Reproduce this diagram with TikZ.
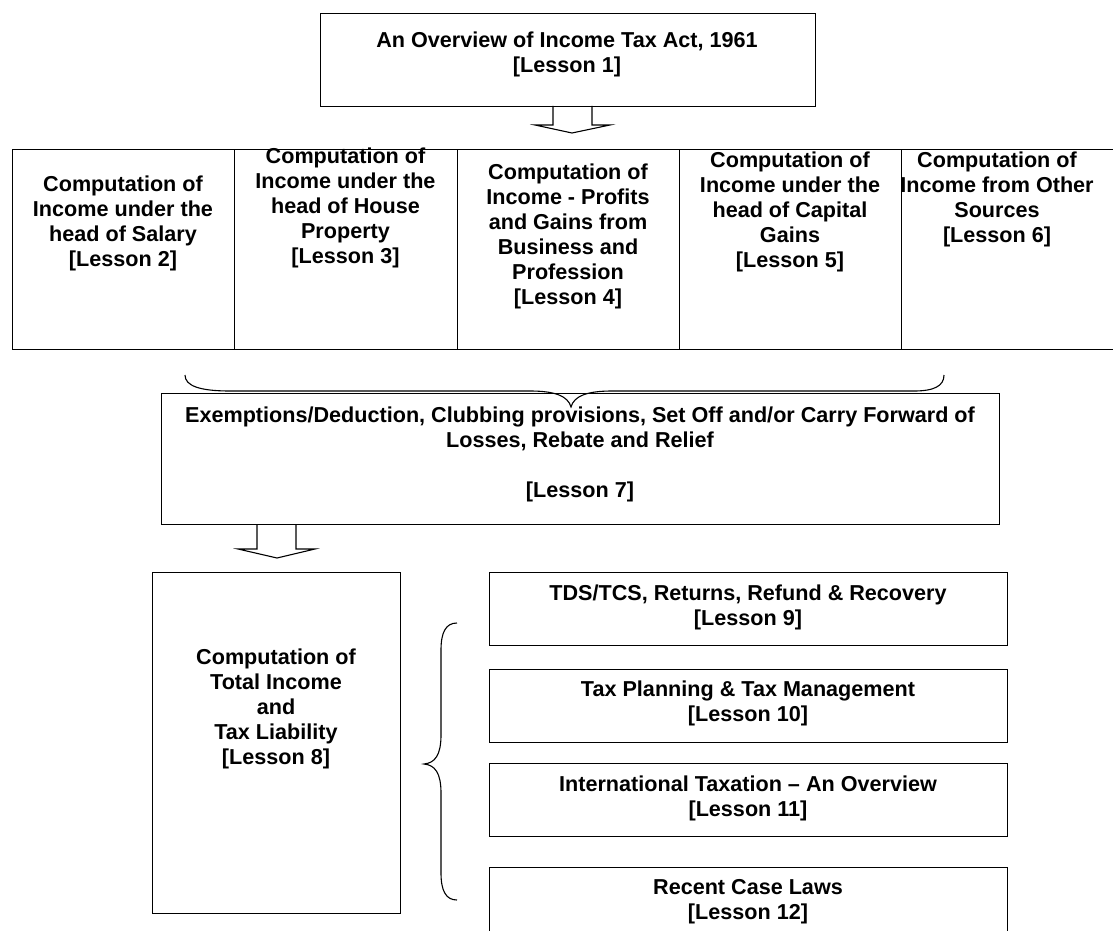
\documentclass[tikz,border=0pt]{standalone}
\usepackage{fontspec}
\setmainfont{Liberation Sans}
\begin{document}
\begin{tikzpicture}[x=1pt,y=-1pt,
  box/.style={draw=black, line width=1.2pt, inner sep=0pt, anchor=north west},
  txt/.style={font=\fontsize{21.6}{25}\selectfont\bfseries, align=center, inner sep=0pt},
  outl/.style={draw=black, line width=1.1pt, line join=miter},
  brace/.style={draw=black, line width=1.1pt}]
\useasboundingbox (0,0) rectangle (1113,931);
\clip (0,0) rectangle (1113,931);
% top box
\node[box, minimum width=495pt, minimum height=93pt] (top) at (320,13) {};
\node[txt] (ttop) at (567,54) {An Overview of Income Tax Act, 1961\\{[Lesson 1]}};
% arrow 1
\coordinate (a1) at (553,106);
\coordinate (a1r) at (592,106);
\draw[outl] (a1) -- (553,125) -- (535,125) -- (572,133) -- (610,125) -- (592,125) -- (a1r);
% row boxes
\node[box, minimum width=222pt, minimum height=200pt] (b2) at (12,149) {};
\node[box, minimum width=223pt, minimum height=200pt] (b3) at (234,149) {};
\node[box, minimum width=222pt, minimum height=200pt] (b4) at (457,149) {};
\node[box, minimum width=222pt, minimum height=200pt] (b5) at (679,149) {};
\node[box, minimum width=223pt, minimum height=200pt] (b6) at (901,149) {};
\node[txt] (t2) at (123,223) {Computation of\\Income under the\\head of Salary\\{[Lesson 2]}};
\node[txt] (t3) at (345.5,208) {Computation of\\Income under the\\head of House\\Property\\{[Lesson 3]}};
\node[txt] (t4) at (568,236) {Computation of\\Income - Profits\\and Gains from\\Business and\\Profession\\{[Lesson 4]}};
\node[txt] (t5) at (790,212) {Computation of\\Income under the\\head of Capital\\Gains\\{[Lesson 5]}};
\node[txt] (t6) at (997,199) {Computation of\\Income from Other\\Sources\\{[Lesson 6]}};
% brace under row
\draw[brace] (185,375) .. controls (185,386) and (200,391) .. (230,391) -- (530,391)
  .. controls (555,391) and (568,396) .. (571,407)
  .. controls (574,396) and (587,391) .. (612,391) -- (914,391)
  .. controls (934,391) and (944,386) .. (944,375);
% box 7
\node[box, minimum width=838pt, minimum height=131pt] (b7) at (161,393) {};
\node[txt] (t7) at (580,454) {Exemptions/Deduction, Clubbing provisions, Set Off and/or Carry Forward of\\Losses, Rebate and Relief\\[25pt]{[Lesson 7]}};
% arrow 2
\coordinate (a2) at (257,524);
\coordinate (a2r) at (296,524);
\draw[outl] (a2) -- (257,549) -- (238,549) -- (277,558) -- (315,549) -- (296,549) -- (a2r);
% box 8
\node[box, minimum width=248pt, minimum height=341pt] (b8) at (152,572) {};
\node[txt] (t8) at (276,709) {Computation of\\Total Income\\and\\Tax Liability\\{[Lesson 8]}};
% left brace
\draw[brace] (457,623) .. controls (446,623) and (441,632) .. (441,650) -- (441,735)
  .. controls (441,755) and (435,763) .. (424,764)
  .. controls (435,765) and (441,773) .. (441,793) -- (441,873)
  .. controls (441,891) and (446,900) .. (457,900);
% right boxes
\node[box, minimum width=518pt, minimum height=73pt] (b9) at (489,572) {};
\node[txt] (t9) at (748,607) {TDS/TCS, Returns, Refund \& Recovery\\{[Lesson 9]}};
\node[box, minimum width=518pt, minimum height=73pt] (b10) at (489,669) {};
\node[txt] (t10) at (748,703) {Tax Planning \& Tax Management\\{[Lesson 10]}};
\node[box, minimum width=518pt, minimum height=73pt] (b11) at (489,763) {};
\node[txt] (t11) at (748,798) {International Taxation – An Overview\\{[Lesson 11]}};
\node[box, minimum width=518pt, minimum height=90pt] (b12) at (489,867) {};
\node[txt] (t12) at (748,902) {Recent Case Laws\\{[Lesson 12]}};
\end{tikzpicture}
\end{document}
